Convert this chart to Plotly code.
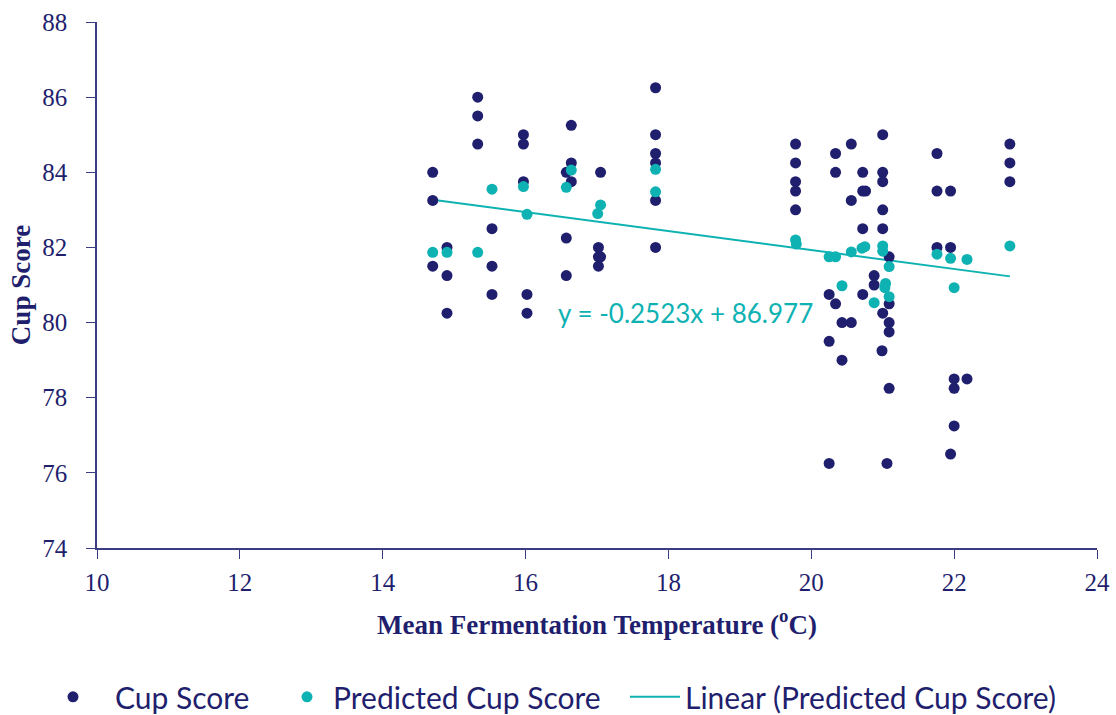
import plotly.graph_objects as go

# Observed cup scores by mean fermentation temperature (°C)
cup_temp = [14.70, 14.70, 14.70,
            14.90, 14.90, 14.90,
            15.33, 15.33, 15.33,
            15.53, 15.53, 15.53,
            15.97, 15.97, 15.97,
            16.02, 16.02,
            16.57, 16.57, 16.57,
            16.64, 16.64, 16.64,
            17.02, 17.02, 17.02,
            17.05, 17.05,
            17.82, 17.82, 17.82, 17.82, 17.82, 17.82,
            19.78, 19.78, 19.78, 19.78, 19.78,
            20.25, 20.25, 20.25,
            20.34, 20.34, 20.34,
            20.43, 20.43,
            20.56, 20.56, 20.56,
            20.72, 20.72, 20.72, 20.72, 20.76,
            20.88, 20.88,
            21.00, 21.00, 21.00, 21.00, 21.00, 21.00, 20.99,
            21.06,
            21.09, 21.09, 21.09, 21.09, 21.09,
            21.76, 21.76, 21.76,
            21.95, 21.95, 21.95,
            22.00, 22.00, 22.00,
            22.18,
            22.78, 22.78, 22.78]
cup_score = [84.0, 83.25, 81.5,
             82.0, 81.25, 80.25,
             86.0, 85.5, 84.75,
             82.5, 81.5, 80.75,
             85.0, 84.75, 83.75,
             80.75, 80.25,
             84.0, 82.25, 81.25,
             85.25, 84.25, 83.75,
             82.0, 81.75, 81.5,
             84.0, 81.75,
             86.25, 85.0, 84.5, 84.25, 83.25, 82.0,
             84.75, 84.25, 83.75, 83.5, 83.0,
             80.75, 79.5, 76.25,
             84.5, 84.0, 80.5,
             80.0, 79.0,
             84.75, 83.25, 80.0,
             84.0, 83.5, 82.5, 80.75, 83.5,
             81.25, 81.0,
             85.0, 84.0, 83.75, 83.0, 82.5, 80.25, 79.25,
             76.25,
             81.75, 80.5, 80.0, 79.75, 78.25,
             84.5, 83.5, 82.0,
             83.5, 82.0, 76.5,
             78.5, 78.25, 77.25,
             78.5,
             84.75, 84.25, 83.75]

# Model-predicted cup scores
pred_temp = [14.70, 14.90, 15.33, 15.53, 15.97, 16.02, 16.57, 16.64,
             17.01, 17.05, 17.82, 17.82, 19.78, 19.79, 20.25, 20.34,
             20.43, 20.56, 20.71, 20.75, 20.88, 21.00, 21.00, 21.03,
             21.04, 21.09, 21.09, 21.76, 21.95, 22.00, 22.18, 22.78]
pred_score = [81.87, 81.87, 81.87, 83.55, 83.62, 82.88, 83.60, 84.06,
              82.90, 83.13, 84.08, 83.48, 82.20, 82.09, 81.75, 81.75,
              80.98, 81.88, 81.98, 82.02, 80.53, 82.04, 81.90, 80.93,
              81.04, 81.49, 80.69, 81.82, 81.71, 80.93, 81.68, 82.04]

# Linear trendline of the predicted scores
slope = -0.2523
intercept = 86.977

x_ticks = [10, 12, 14, 16, 18, 20, 22, 24]
y_ticks = [74, 76, 78, 80, 82, 84, 86, 88]

NAVY = "#1f1f6e"
TEAL = "#0fb2b2"
AXIS = "#3c3c80"
SERIF = "Liberation Serif, Times New Roman, serif"
SANS = "Lato, Open Sans, sans-serif"

line_x = [min(pred_temp), max(pred_temp)]
line_y = [slope * v + intercept for v in line_x]

fig = go.Figure()
fig.add_trace(go.Scatter(
    x=line_x, y=line_y, mode="lines", name="Linear (Predicted Cup Score)",
    line=dict(color=TEAL, width=2), legend="legend3", showlegend=True))
fig.add_trace(go.Scatter(
    x=cup_temp, y=cup_score, mode="markers", name="Cup Score",
    marker=dict(color=NAVY, size=11), legend="legend", showlegend=True))
fig.add_trace(go.Scatter(
    x=pred_temp, y=pred_score, mode="markers", name="Predicted Cup Score",
    marker=dict(color=TEAL, size=11), legend="legend2", showlegend=True))

eq_text = f"y = {slope:.4f}x + {intercept:.3f}"
fig.add_annotation(
    x=18.24, y=80.25, xref="x", yref="y", text=eq_text, showarrow=False,
    font=dict(family=SANS, size=26, color=TEAL))

fig.update_xaxes(
    range=[10, 24], tickvals=x_ticks, ticks="outside", ticklen=9,
    tickcolor=AXIS, showline=True, linecolor=AXIS, linewidth=1.5,
    showgrid=False, zeroline=False, automargin=False, ticklabelstandoff=2,
    tickfont=dict(family=SERIF, size=25, color=NAVY),
    title=dict(text="<b>Mean Fermentation Temperature (<sup>o</sup>C)</b>",
               font=dict(family=SERIF, size=27, color=NAVY), standoff=20))
fig.update_yaxes(
    range=[74, 88], tickvals=y_ticks, ticks="outside", ticklen=9,
    tickcolor=AXIS, showline=True, linecolor=AXIS, linewidth=1.5,
    showgrid=False, zeroline=False, automargin=False, ticklabelstandoff=14,
    tickfont=dict(family=SERIF, size=25, color=NAVY),
    title=dict(text="<b>Cup Score</b>",
               font=dict(family=SERIF, size=27, color=NAVY), standoff=4))

legend_common = dict(orientation="h", xanchor="left", y=-0.283,
                     yanchor="middle", visible=True,
                     font=dict(family=SANS, size=30, color=NAVY))

fig.update_layout(
    width=1116, height=715,
    showlegend=True,
    margin=dict(l=97, r=19, t=22, b=167, autoexpand=False),
    plot_bgcolor="white", paper_bgcolor="white",
    legend=dict(x=-0.066, itemwidth=74, **legend_common),
    legend2=dict(x=0.184, itemwidth=42, **legend_common),
    legend3=dict(x=0.528, itemwidth=50, **legend_common),
)

fig.write_html("out.html")
